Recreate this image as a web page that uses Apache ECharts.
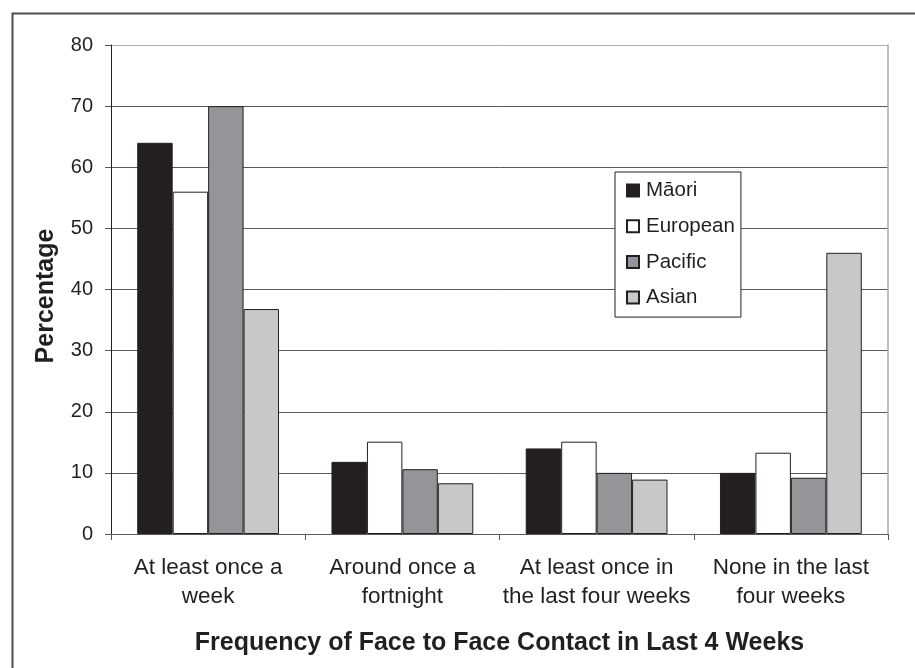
<!DOCTYPE html>
<html>
<head>
<meta charset="utf-8">
<script src="https://cdn.jsdelivr.net/npm/echarts@6/dist/echarts.min.js"></script>
<style>
html,body{margin:0;padding:0;background:#fff;}
#chart{width:915px;height:668px;}
</style>
</head>
<body>
<div id="chart"></div>
<script>
var categories = ['At least once a\nweek', 'Around once a\nfortnight', 'At least once in\nthe last four weeks', 'None in the last\nfour weeks'];
var seriesNames = ['Māori', 'European', 'Pacific', 'Asian'];
var maori = [64, 11.8, 14, 10];
var european = [56, 15.1, 15.1, 13.3];
var pacific = [70, 10.6, 10, 9.2];
var asian = [36.8, 8.3, 8.9, 46];
var yTicks = [0, 10, 20, 30, 40, 50, 60, 70, 80];

var FONT = "'Liberation Sans', Arial, Helvetica, sans-serif";
var TXT = '#231f20';
var fills = ['#231f20', '#ffffff', '#939598', '#c7c8ca'];
var values = [maori, european, pacific, asian];

var chart = echarts.init(document.getElementById('chart'));
var gridColors = yTicks.map(function (t, i) { return i === yTicks.length - 1 ? '#a7a9ac' : '#58595b'; });

var series = seriesNames.map(function (name, i) {
  return {
    name: name,
    type: 'bar',
    data: values[i],
    barGap: '0%',
    barCategoryGap: '27%',
    itemStyle: { color: fills[i], borderColor: '#231f20', borderWidth: 1 },
    emphasis: { disabled: true },
    animation: false
  };
});

chart.setOption({
  animation: false,
  textStyle: { fontFamily: FONT, color: TXT },
  graphic: [{
    type: 'rect',
    left: 10, top: 11,
    shape: { width: 1000, height: 1000 },
    style: { fill: 'none', stroke: '#4d4d4f', lineWidth: 2 },
    z: 100
  }],
  grid: { left: 111, right: 27, top: 45, bottom: 134 },
  legend: {
    data: seriesNames,
    orient: 'vertical',
    left: 615, top: 172,
    padding: [8, 6, 9, 11],
    itemGap: 14.7,
    itemWidth: 12, itemHeight: 12,
    icon: 'rect',
    backgroundColor: '#ffffff',
    borderColor: '#231f20',
    borderWidth: 1,
    borderRadius: 0,
    textStyle: { fontFamily: FONT, fontSize: 20.5, color: TXT, lineHeight: 20, padding: [0, 0, 0, 2] }
  },
  xAxis: {
    type: 'category',
    data: categories,
    name: 'Frequency of Face to Face Contact in Last 4 Weeks',
    nameLocation: 'middle',
    nameGap: 97,
    nameTextStyle: { fontFamily: FONT, fontSize: 25, fontWeight: 'bold', color: TXT },
    axisLine: { lineStyle: { color: '#58595b', width: 1 } },
    axisTick: { show: true, length: 6, alignWithLabel: false, lineStyle: { color: '#58595b' } },
    axisLabel: { fontFamily: FONT, fontSize: 22.5, color: TXT, lineHeight: 29, margin: 19, interval: 0 },
    splitLine: { show: false }
  },
  yAxis: [{
    type: 'value',
    min: 0, max: 80, interval: 10,
    name: 'Percentage',
    nameLocation: 'middle',
    nameGap: 52,
    nameRotate: 90,
    nameTextStyle: { fontFamily: FONT, fontSize: 25, fontWeight: 'bold', color: TXT, padding: [0, 13, 0, 0] },
    axisLine: { show: true, lineStyle: { color: '#231f20', width: 1 } },
    axisTick: { show: true, length: 6, lineStyle: { color: '#58595b' } },
    axisLabel: { fontFamily: FONT, fontSize: 20, color: TXT, margin: 18,
      formatter: function (v) { return yTicks.indexOf(v) >= 0 ? String(v) : ''; } },
    splitLine: { show: true, lineStyle: { color: gridColors, width: 1 } }
  }, {
    type: 'value',
    min: 0, max: 80, interval: 10,
    position: 'right',
    axisLine: { show: true, lineStyle: { color: '#a7a9ac', width: 1.5 } },
    axisTick: { show: false },
    axisLabel: { show: false },
    splitLine: { show: false }
  }],
  series: series
});
</script>
</body>
</html>
